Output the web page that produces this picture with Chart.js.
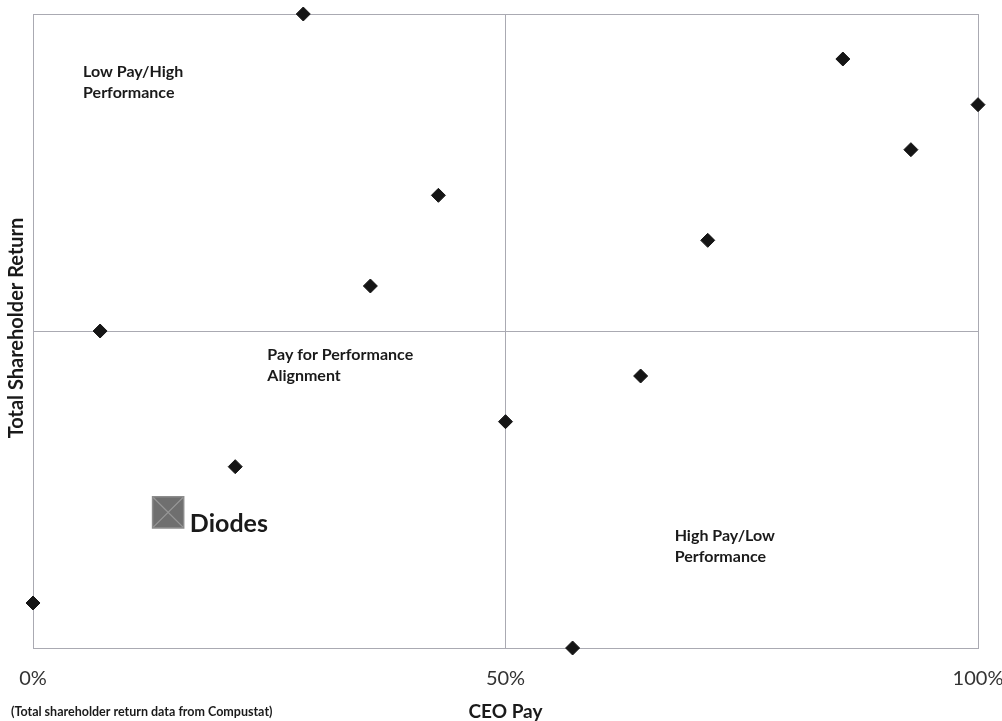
<!DOCTYPE html>
<html>
<head>
<meta charset="utf-8">
<script src="https://cdn.jsdelivr.net/npm/chart.js@4/dist/chart.umd.min.js"></script>
<style>
  html, body { margin: 0; padding: 0; background: #fff; }
  #wrap { width: 1002px; height: 721px; position: relative; }
</style>
</head>
<body>
<div id="wrap"><canvas id="c" width="1002" height="721"></canvas></div>
<script>
// Peer companies: CEO pay percentile vs. total shareholder return percentile
const peerPay = [28.6, 85.7, 100, 92.9, 42.9, 71.4, 35.7, 7.1, 64.3, 50, 21.4, 0, 57.1];
const peerTsr = [100, 92.9, 85.7, 78.6, 71.4, 64.3, 57.1, 50, 42.9, 35.7, 28.6, 7.1, 0];

// Diodes' own position
const diodesPay = [14.3];
const diodesTsr = [21.4];

// Axis ticks (percent of CEO pay ranking)
const xTicks = [0, 50, 100];
const xTickLabels = ['0%', '50%', '100%'];

const toPoints = (xs, ys) => xs.map((x, i) => ({ x: x, y: ys[i] }));

const FONT = 'Lato, "Open Sans", sans-serif';

// Quadrant captions and other free text
const textPlugin = {
  id: 'quadrantText',
  afterDatasetsDraw(chart) {
    const { ctx, scales: { x, y } } = chart;
    ctx.save();
    ctx.fillStyle = '#1a1a1a';
    ctx.textBaseline = 'middle';
    ctx.textAlign = 'left';

    const captions = [
      { lines: ['Low Pay/High', 'Performance'], px: 5.3, py: 90.9 },
      { lines: ['Pay for Performance', 'Alignment'], px: 24.8, py: 46.2 },
      { lines: ['High Pay/Low', 'Performance'], px: 67.9, py: 17.7 }
    ];
    ctx.font = 'bold 16px ' + FONT;
    captions.forEach(c => {
      c.lines.forEach((t, i) => {
        ctx.fillText(t, x.getPixelForValue(c.px), y.getPixelForValue(c.py) + i * 21);
      });
    });

    ctx.font = 'bold 25px ' + FONT;
    ctx.fillText('Diodes', x.getPixelForValue(16.6), y.getPixelForValue(19.6));

    // axis titles
    ctx.font = 'bold 19px ' + FONT;
    ctx.textAlign = 'center';
    ctx.fillText('CEO Pay', (x.left + x.right) / 2, 712);
    ctx.save();
    ctx.translate(17, 328);
    ctx.rotate(-Math.PI / 2);
    ctx.font = 'bold 20px ' + FONT;
    ctx.fillText('Total Shareholder Return', 0, 0);
    ctx.restore();

    // source note
    ctx.textAlign = 'left';
    ctx.font = 'bold 12.5px ' + FONT;
    ctx.fillText('(Total shareholder return data from Compustat)', 11, 712);
    ctx.restore();
  }
};

new Chart(document.getElementById('c'), {
  type: 'scatter',
  data: {
    datasets: [
      {
        label: 'Peers',
        data: toPoints(peerPay, peerTsr),
        order: 0,
        pointStyle: 'rectRot',
        pointRadius: 7,
        pointHoverRadius: 7,
        backgroundColor: '#151515',
        borderColor: '#151515',
        borderWidth: 1,
        clip: false
      },
      {
        label: 'Diodes',
        data: toPoints(diodesPay, diodesTsr),
        order: 2,
        pointStyle: 'rect',
        pointRadius: 22,
        pointHoverRadius: 22,
        backgroundColor: '#6f6f6f',
        borderColor: '#8c8c8c',
        borderWidth: 1.5,
        clip: false
      },
      {
        label: 'Diodes mark',
        data: toPoints(diodesPay, diodesTsr),
        order: 1,
        pointStyle: 'crossRot',
        pointRadius: 21,
        pointHoverRadius: 21,
        borderColor: '#979797',
        borderWidth: 1.2,
        clip: false
      }
    ]
  },
  options: {
    responsive: false,
    animation: false,
    events: [],
    layout: { autoPadding: false, padding: { top: 14, right: 24, left: 0, bottom: 0 } },
    plugins: { legend: { display: false }, tooltip: { enabled: false } },
    scales: {
      x: {
        type: 'linear',
        min: 0,
        max: 100,
        afterBuildTicks(scale) { scale.ticks = xTicks.map(v => ({ value: v })); },
        afterFit(scale) { scale.height = 73; scale.paddingLeft = 0; scale.paddingRight = 0; },
        border: { display: true, color: '#aaaab2', width: 1 },
        grid: { color: '#aaaab2', lineWidth: 1, drawTicks: false },
        ticks: {
          padding: 19,
          color: '#333333',
          font: { family: FONT, size: 20 },
          callback: (v) => xTickLabels[xTicks.indexOf(v)]
        }
      },
      y: {
        type: 'linear',
        min: 0,
        max: 100,
        afterBuildTicks(scale) { scale.ticks = [0, 50, 100].map(v => ({ value: v })); },
        afterFit(scale) { scale.width = 33; scale.paddingTop = 0; scale.paddingBottom = 0; },
        border: { display: true, color: '#aaaab2', width: 1 },
        grid: { color: '#aaaab2', lineWidth: 1, drawTicks: false },
        ticks: { display: false }
      }
    }
  },
  plugins: [textPlugin]
});
</script>
</body>
</html>
